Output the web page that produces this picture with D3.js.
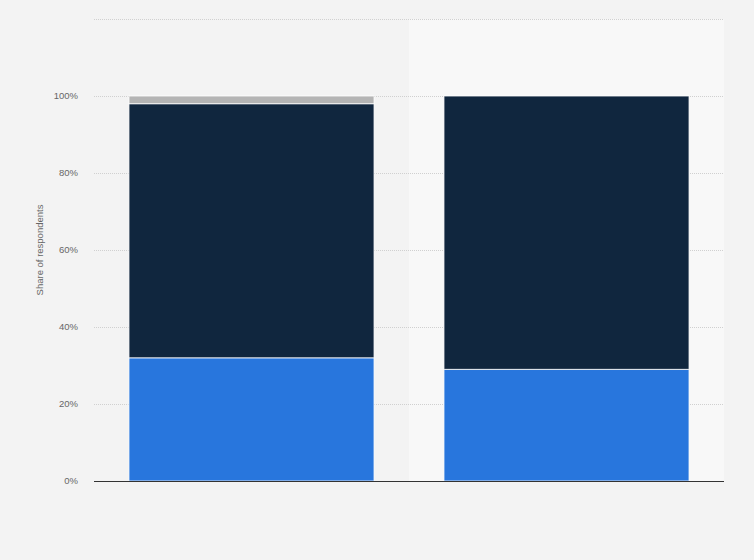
<!DOCTYPE html>
<html>
<head>
<meta charset="utf-8">
<script src="https://cdn.jsdelivr.net/npm/d3@7"></script>
<style>
  body { margin: 0; background: #f3f3f3; }
  svg { display: block; font-family: "Liberation Sans", Arial, sans-serif; }
</style>
</head>
<body>
<div id="chart"></div>
<script>
// data (percent of respondents)
const categories = ["Group A", "Group B"];
const seriesNames = ["Yes", "No", "Don't know"];
const seriesColors = ["#2876dd", "#10263e", "#b4b4b4"];
const valuesYes = [32, 29];
const valuesNo = [66, 71];
const valuesDontKnow = [2, 0];
const yTicks = [0, 20, 40, 60, 80, 100, 120];

const W = 754, H = 560;
const margin = { top: 19, right: 30, bottom: 79, left: 94 };
const innerW = W - margin.left - margin.right;
const innerH = H - margin.top - margin.bottom;

const rows = categories.map((c, i) => ({
    cat: c,
    "Yes": valuesYes[i],
    "No": valuesNo[i],
    "Don't know": valuesDontKnow[i]
}));
const stacked = d3.stack().keys(seriesNames)(rows);

const svg = d3.select("#chart").append("svg")
    .attr("width", W)
    .attr("height", H);

const g = svg.append("g")
    .attr("transform", `translate(${margin.left},${margin.top})`);

const x = d3.scaleBand()
    .domain(categories)
    .range([0, innerW])
    .paddingInner(0.222)
    .paddingOuter(0.111);

const y = d3.scaleLinear()
    .domain([0, 120])
    .range([innerH, 0]);

// hovered category band (lighter)
const step = x.step();
g.append("rect")
    .attr("x", x(categories[1]) - (step - x.bandwidth()) / 2)
    .attr("y", 0)
    .attr("width", step)
    .attr("height", innerH)
    .attr("fill", "#f8f8f8");

// gridlines
g.append("g")
    .selectAll("line")
    .data(yTicks.filter(t => t > 0))
    .enter()
    .append("line")
    .attr("x1", 0)
    .attr("x2", innerW)
    .attr("y1", d => Math.round(y(d)) + 0.5)
    .attr("y2", d => Math.round(y(d)) + 0.5)
    .attr("stroke", "#d0d0d0")
    .attr("stroke-width", 1)
    .attr("stroke-dasharray", "1,1");

// tick labels (top tick unlabeled)
g.append("g")
    .selectAll("text")
    .data(yTicks.filter(t => t <= 100))
    .enter()
    .append("text")
    .attr("x", -16)
    .attr("y", d => y(d))
    .attr("dy", "0.35em")
    .attr("text-anchor", "end")
    .attr("fill", "#666")
    .style("font-size", "9.5px")
    .text(d => d + "%");

// bars
g.selectAll("g.series")
    .data(stacked)
    .enter()
    .append("g")
    .attr("class", "series")
    .attr("fill", (d, i) => seriesColors[i])
    .selectAll("rect")
    .data(d => d.filter(p => p[1] - p[0] > 0))
    .enter()
    .append("rect")
    .attr("x", d => x(d.data.cat))
    .attr("y", d => y(d[1]))
    .attr("width", x.bandwidth())
    .attr("height", d => y(d[0]) - y(d[1]))
    .attr("stroke", "#ffffff")
    .attr("stroke-opacity", 0.8)
    .attr("stroke-width", 1);

// baseline
g.append("line")
    .attr("x1", 0)
    .attr("x2", innerW)
    .attr("y1", innerH + 0.5)
    .attr("y2", innerH + 0.5)
    .attr("stroke", "#333")
    .attr("stroke-width", 1.2);

// y axis title
svg.append("text")
    .attr("transform", `translate(43,${margin.top + innerH / 2}) rotate(-90)`)
    .attr("text-anchor", "middle")
    .attr("fill", "#666")
    .style("font-size", "9.5px")
    .text("Share of respondents");
</script>
</body>
</html>
